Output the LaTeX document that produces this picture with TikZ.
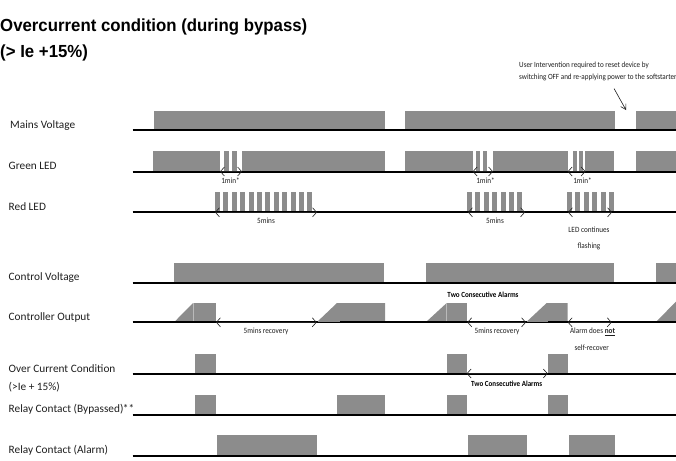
\documentclass[tikz,border=0pt]{standalone}
\usepackage{fontspec}
\setmainfont{Carlito}
\newfontfamily\cnd[FakeStretch=0.9,BoldFeatures={FakeStretch=0.9}]{Carlito}
\newfontfamily\ttlfont[BoldFeatures={FakeStretch=0.96}]{Liberation Sans}
\usetikzlibrary{arrows.meta}
\definecolor{barc}{RGB}{140,140,140}
\definecolor{ink}{RGB}{30,30,30}
\begin{document}
\begin{tikzpicture}[x=1pt,y=-1pt,
  bar/.style={fill=barc},
  baseln/.style={line width=2pt,black},
  divl/.style={line width=0.5pt,color=barc!60},
  lbl/.style={anchor=base west,inner sep=0,font=\fontsize{11.3}{13}\selectfont,text=ink},
  small/.style={inner sep=0,font=\cnd\fontsize{8}{9}\selectfont,text=ink},
  smallb/.style={inner sep=0,font=\cnd\bfseries\fontsize{7.8}{9}\selectfont,text=black},
  dimarr/.style={{Straight Barb[length=4pt,width=9pt]}-{Straight Barb[length=4pt,width=9pt]},line width=0.6pt,ink},
  ttl/.style={anchor=base west,inner sep=0,font=\ttlfont\bfseries\fontsize{17.5}{20}\selectfont,text=black}]
\useasboundingbox (0,0) rectangle (676,460);
\clip (0,0) rectangle (676,460);

% title
\node[ttl] (t1) at (0,31.7) {Overcurrent condition (during bypass)};
\node[ttl] (t2) at (0,57) {(> Ie +15\%)};

% annotation
\node[small,anchor=west,font=\cnd\fontsize{7.9}{8}\selectfont] (ann1) at (519,65) {User Intervention required to reset device by};
\node[small,anchor=west,font=\cnd\fontsize{7.9}{8}\selectfont] (ann2) at (519,77.7) {switching OFF and re-applying power to the softstarter};
\coordinate (annS) at (614,88.5);
\coordinate (annE) at (626,110);
\draw[-{Straight Barb[length=5pt,width=6pt]},line width=0.6pt,ink] (annS) -- (annE);

% labels
\node[lbl] (lMains) at (10,128.3) {Mains Voltage};
\node[lbl] (lGreen) at (8.5,169.3) {Green LED};
\node[lbl] (lRed) at (8.5,210) {Red LED};
\node[lbl] (lCV) at (8.5,280) {Control Voltage};
\node[lbl] (lCO) at (8.5,320.7) {Controller Output};
\node[lbl] (lOC) at (8.5,372.3) {Over Current Condition};
\node[lbl] (lOC2) at (8.5,390) {(>Ie + 15\%)};
\node[lbl] (lBy) at (8.5,412.5) {Relay Contact (Bypassed)\kern-0.5pt**};
\node[lbl] (lAl) at (8.5,453.5) {Relay Contact (Alarm)};

% Mains voltage
\fill[bar] (154,111) rectangle (385,130);
\fill[bar] (405,111) rectangle (615,130);
\fill[bar] (636,111) rectangle (680,130);

% Green LED
\fill[bar] (153,151) rectangle (220,171.5);
\fill[bar] (224,151) rectangle (228.5,171.5);
\fill[bar] (232,151) rectangle (236.5,171.5);
\fill[bar] (242,151) rectangle (385,171.5);
\fill[bar] (405,151) rectangle (472.7,171.5);
\fill[bar] (476,151) rectangle (480,171.5);
\fill[bar] (483.3,151) rectangle (487.3,171.5);
\fill[bar] (492.7,151) rectangle (567.7,171.5);
\fill[bar] (572.7,151) rectangle (576.7,171.5);
\fill[bar] (579.3,151) rectangle (582.7,171.5);
\fill[bar] (585,151) rectangle (614,171.5);
\fill[bar] (636,151) rectangle (680,171.5);

% Red LED
\foreach \i in {0,...,11} \fill[bar] ({215+8.4*\i},192) rectangle +(5,20.3);
\foreach \i in {0,...,6} \fill[bar] ({467+8.4*\i},192) rectangle +(5,20.3);
\foreach \i in {0,...,5} \fill[bar] ({567+8.4*\i},192) rectangle +(5,20.3);

% Control voltage
\fill[bar] (174,262.5) rectangle (384,283);
\fill[bar] (425.7,262.5) rectangle (614,283);
\fill[bar] (655.7,262.5) rectangle (680,283);

% Controller output
\fill[bar] (174,322.3) -- (193,303) -- (193,322.3) -- cycle;
\fill[bar] (193,303) rectangle (216,322.3);
\fill[bar] (316.7,322.3) -- (337,303) -- (385,303) -- (385,322.3) -- cycle;
\fill[bar] (425.7,322.3) -- (446.7,303) -- (446.7,322.3) -- cycle;
\fill[bar] (446.7,303) rectangle (467.3,322.3);
\fill[bar] (526,322.3) -- (546.7,303) -- (567.7,303) -- (567.7,322.3) -- cycle;
\fill[bar] (655.7,322.3) -- (676,301.5) -- (680,301.5) -- (680,322.3) -- cycle;
\draw[divl] (193,303.3) -- (193,321.5);
\draw[divl] (446.7,303.3) -- (446.7,321.5);

% Over current condition
\fill[bar] (195,354) rectangle (216,374.3);
\fill[bar] (446.7,354) rectangle (467,374.3);
\fill[bar] (547.7,354) rectangle (568.3,374.3);

% Relay bypassed
\fill[bar] (195,395) rectangle (216,414.7);
\fill[bar] (337,395) rectangle (385,414.7);
\fill[bar] (446.7,395) rectangle (467,414.7);
\fill[bar] (547.7,395) rectangle (568.3,414.7);

% Relay alarm
\fill[bar] (216.7,435) rectangle (316.7,455.5);
\fill[bar] (467.7,435) rectangle (526.7,455.5);
\fill[bar] (568.7,435) rectangle (615.3,455.5);

% baselines
\foreach \y in {130,171.5,212.3,283,322.3,374.3,414.7,455.5}
  \draw[baseln] (132.7,\y) -- (680,\y);
\draw[line width=1pt,barc] (317.5,321.8) -- (340,321.8);
\draw[line width=1pt,barc] (527,321.8) -- (548,321.8);

% 1min* arrows
\coordinate (g1a) at (220,171.5); \coordinate (g1b) at (242,171.5);
\coordinate (g2a) at (472.7,171.5); \coordinate (g2b) at (493,171.5);
\coordinate (g3a) at (567.7,171.5); \coordinate (g3b) at (585.5,171.5);
\draw[dimarr] (g1a) -- (g1b);
\draw[dimarr] (g2a) -- (g2b);
\draw[dimarr] (g3a) -- (g3b);
\node[small] (m1) at (230.5,180.5) {1min*};
\node[small] (m2) at (485.5,180.5) {1min*};
\node[small] (m3) at (582.5,180.5) {1min*};

% red LED arrows
\coordinate (r1a) at (215,212.3); \coordinate (r1b) at (317,212.3);
\coordinate (r2a) at (468,212.3); \coordinate (r2b) at (525,212.3);
\coordinate (r3a) at (568,212.3); \coordinate (r3b) at (612,212.3);
\draw[dimarr] (r1a) -- (r1b);
\draw[dimarr] (r2a) -- (r2b);
\draw[dimarr] (r3a) -- (r3b);
\node[small] (f1) at (266,221) {5mins};
\node[small] (f2) at (495,221) {5mins};
\node[small] (f3) at (589,230) {LED continues};
\node[small] (f4) at (589,246) {flashing};

% controller output arrows
\coordinate (c1a) at (216,322.3); \coordinate (c1b) at (316.7,322.3);
\coordinate (c2a) at (467.3,322.3); \coordinate (c2b) at (526,322.3);
\coordinate (c3a) at (567.7,322.3); \coordinate (c3b) at (611.7,322.3);
\draw[dimarr] (c1a) -- (c1b);
\draw[dimarr] (c2a) -- (c2b);
\draw[dimarr] (c3a) -- (c3b);
\node[small] (rc1) at (266,331.5) {5mins recovery};
\node[small] (rc2) at (497,331.5) {5mins recovery};
\node[small] (nr1) at (592.5,331.5) {Alarm does \textbf{\underline{not}}};
\node[small] (nr2) at (591.7,347.3) {self-recover};
\node[smallb] (tca1) at (483,294.3) {Two Consecutive Alarms};

% over current arrow
\coordinate (o1a) at (466.7,373.5); \coordinate (o1b) at (547.7,373.5);
\draw[dimarr] (o1a) -- (o1b);
\node[smallb] (tca2) at (506.7,384) {Two Consecutive Alarms};
\end{tikzpicture}
\end{document}
